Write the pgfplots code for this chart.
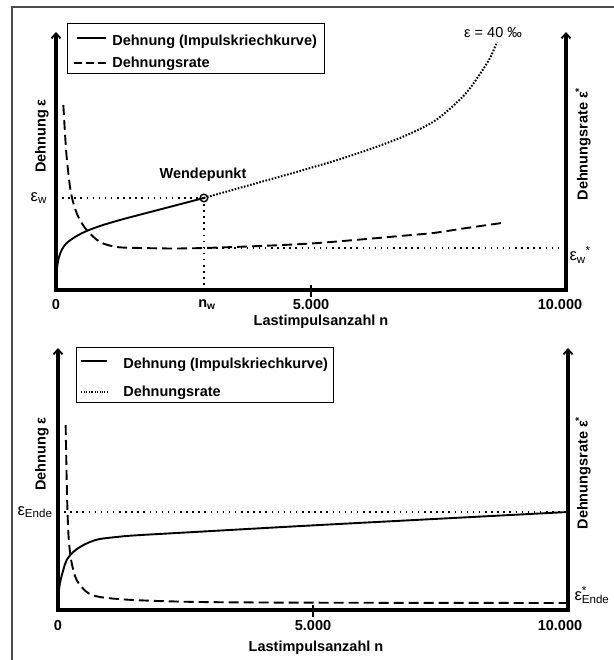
\documentclass[border=0pt]{standalone}
\usepackage{fontspec}
\setmainfont{Liberation Sans}
\usepackage{pgfplots}
\pgfplotsset{compat=1.18}
\usetikzlibrary{arrows.meta}

\tikzset{
  axstyle/.style={line width=3.2bp, line join=miter,
     {Straight Barb[length=5bp,width=9bp,line width=1.8bp]}-{Straight Barb[length=5bp,width=9bp,line width=1.8bp]}},
}
\pgfplotsset{
  legA/.style={legend image code/.code={\draw[##1] (3bp,0bp) -- (32bp,0bp);}},
  legB/.style={legend image code/.code={\draw[##1] (0bp,0bp) -- (32bp,0bp);}},
  legC/.style={legend image code/.code={\draw[##1] (0bp,0bp) -- (26bp,0bp);}},
  legD/.style={legend image code/.code={\path (0bp,0bp) -- (11bp,0bp); \draw[##1] (11bp,0bp) -- (26bp,0bp);}},
}

\begin{document}
\begin{tikzpicture}[x=1bp,y=1bp, font=\fontsize{14.5bp}{17bp}\selectfont\bfseries]
\path[use as bounding box] (0,0) rectangle (614,660);
\draw[black!70, line width=1.3bp] (12,0) -- (12,653) -- (614,653);

\pgfplotsset{
  every axis/.append style={
    scale only axis, axis lines=none, clip=false, enlargelimits=false,
    xmin=0, xmax=10000, ymin=0,
  },
  strain/.style={black, line width=1.9bp, smooth, tension=0.55},
  contdot/.style={black, line width=2bp, dash pattern=on 1.6bp off 1.6bp, smooth, tension=0.5},
  rate/.style={black, line width=1.9bp, dash pattern=on 10bp off 5bp, smooth, tension=0.5},
  refdot/.style={black, line width=1.5bp, dash pattern=on 1.5bp off 4.6bp},
}

% ---------------- top panel ----------------
\begin{axis}[at={(56bp,370bp)}, anchor=south west, width=510bp, height=258bp, ymax=258,
  legend cell align=left,
  legend style={at={(axis cs:216,267)}, anchor=north west, draw=black, line width=1bp,
     inner xsep=6bp, inner ysep=3bp, row sep=6bp,
     font=\fontsize{14.5bp}{17bp}\selectfont\bfseries,
     /tikz/row 1/.style={nodes={text height=17bp}},
     /tikz/every odd column/.append style={column sep=3bp}},
]
% reference lines
\addplot[refdot, forget plot] coordinates {(0,92) (2900,92)};
\addplot[refdot, forget plot] coordinates {(2900,92) (2900,0)};
\addplot[refdot, forget plot] coordinates {(2900,42) (10000,42)};

\addplot[strain, forget plot] coordinates {
 (0,0) (6,15) (45,30) (112,40) (210,47) (406,54) (602,59) (863,64) (1255,70)
 (1700,76) (2300,84) (2900,92)};
\addplot[contdot, forget plot] coordinates {
 (2900,92) (3804,105) (4784,119) (5765,134) (6745,152) (7392,168) (7784,184)
 (8059,198) (8314,216) (8510,232) (8647,248)};
\addplot[rate, forget plot] coordinates {
 (144,185) (176,157) (209,133) (275,103) (340,87) (438,73) (601,60) (863,48)
 (1190,43) (1647,42) (2300,41.5) (2900,42) (4000,44) (5000,46.5) (6092,51)
 (6745,54) (7398,57) (8053,62) (8739,67)};
\addplot[only marks, mark=o, mark size=3.8bp, mark options={line width=1.4bp, fill=white}, forget plot]
  coordinates {(2900,92)};

\addlegendimage{black, line width=1.8bp, legA}
\addlegendentry{Dehnung (Impulskriechkurve)}
\addlegendimage{black, line width=1.8bp, dash pattern=on 8bp off 4bp, legB}
\addlegendentry{Dehnungsrate}

% axes
\draw[axstyle] (axis cs:0,258) -- (axis cs:0,0) -- (axis cs:10000,0) -- (axis cs:10000,258);
\draw[line width=1.4bp] (axis cs:5000,5) -- (axis cs:5000,-7);

% labels
\node at (axis cs:0,-15) {0};
\node at (axis cs:2960,-15) {n\textsubscript{w}};
\node at (axis cs:5000,-15) {5.000};
\node at (axis cs:9882,-15) {10.000};
\node at (axis cs:5196,-32) {Lastimpulsanzahl n};
\node at (axis cs:2882,115) {Wendepunkt};
\node[font=\fontsize{14.5bp}{17bp}\selectfont\mdseries] at (axis cs:8569,257) {ε = 40 ‰};
\node[anchor=east, font=\fontsize{16.5bp}{18bp}\selectfont\mdseries] at (axis cs:-110,92) {ε\textsubscript{w}};
\node[anchor=west, font=\fontsize{16.5bp}{18bp}\selectfont\mdseries] at (axis cs:10000,35) {ε\textsubscript{w}\textsuperscript{*}};
\end{axis}

% ---------------- bottom panel ----------------
\begin{axis}[at={(58bp,50bp)}, anchor=south west, width=510bp, height=262bp, ymax=262,
  legend cell align=left,
  legend style={at={(axis cs:353,263)}, anchor=north west, draw=black, line width=1bp,
     inner xsep=4bp, inner ysep=3bp, row sep=12bp,
     font=\fontsize{14.5bp}{17bp}\selectfont\bfseries,
     /tikz/row 1/.style={nodes={text height=16bp}},
     /tikz/every odd column/.append style={column sep=13bp}},
]
\addplot[refdot, forget plot] coordinates {(0,98) (10000,98)};

\addplot[strain, forget plot] coordinates {
 (0,0) (7,13) (39,27) (104,40) (170,50) (300,58) (431,63) (627,68) (823,71)
 (1150,73) (1477,74.5) (2500,77.5) (5137,85) (10000,98)};
\addplot[rate, forget plot] coordinates {
 (150,185) (170,130) (190,93) (216,67) (268,47) (366,30) (562,18) (823,13)
 (1477,10) (2784,8) (5137,7.3) (10000,7)};

\addlegendimage{black, line width=1.8bp, legC}
\addlegendentry{Dehnung (Impulskriechkurve)}
\addlegendimage{black, line width=1.4bp, dash pattern=on 1bp off 1.4bp, legD}
\addlegendentry{Dehnungsrate}

\draw[axstyle] (axis cs:0,262) -- (axis cs:0,0) -- (axis cs:10000,0) -- (axis cs:10000,262);
\draw[line width=1.4bp] (axis cs:5000,5) -- (axis cs:5000,-7);

\node at (axis cs:0,-16) {0};
\node at (axis cs:5000,-16) {5.000};
\node at (axis cs:9843,-16) {10.000};
\node at (axis cs:5059,-38) {Lastimpulsanzahl n};
\node[anchor=east, font=\fontsize{16.5bp}{18bp}\selectfont\mdseries] at (axis cs:-40,98) {ε\textsubscript{Ende}};
\node[anchor=west, font=\fontsize{16.5bp}{18bp}\selectfont\mdseries] at (axis cs:10060,15) {ε\rlap{\textsuperscript{*}}\textsubscript{Ende}};
\end{axis}

% rotated axis titles
\node[rotate=90] at (42,524) {Dehnung ε};
\node[rotate=90] at (583,516) {Dehnungsrate ε\textsuperscript{*}};
\node[rotate=90] at (42,206) {Dehnung ε};
\node[rotate=90] at (583,187) {Dehnungsrate ε\textsuperscript{*}};
\end{tikzpicture}
\end{document}
